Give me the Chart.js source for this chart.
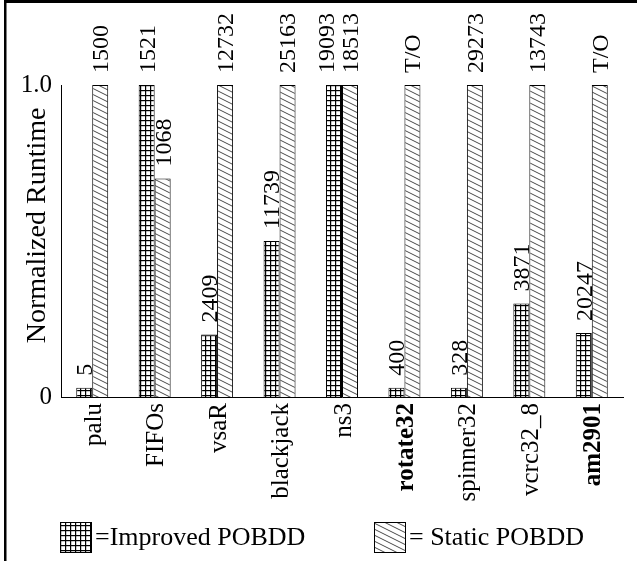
<!DOCTYPE html>
<html>
<head>
<meta charset="utf-8">
<script src="https://cdn.jsdelivr.net/npm/chart.js@4"></script>
<style>
  html, body { margin: 0; padding: 0; background: #fff; }
  #wrap { width: 637px; height: 561px; position: relative; }
</style>
</head>
<body>
<div id="wrap"><canvas id="chart" width="637" height="561"></canvas></div>
<script>
const categories = ["palu", "FIFOs", "vsaR", "blackjack", "ns3", "rotate32", "spinner32", "vcrc32_8", "am2901"];
const boldCategories = ["rotate32", "am2901"];
const improvedValues = [0.03, 1.0, 0.2, 0.5, 1.0, 0.03, 0.03, 0.3, 0.205];
const staticValues = [1.0, 0.7, 1.0, 1.0, 1.0, 1.0, 1.0, 1.0, 1.0];
const improvedLabels = ["5", "1521", "2409", "11739", "19093", "400", "328", "3871", "20247"];
const staticLabels = ["1500", "1068", "12732", "25163", "18513", "T/O", "29273", "13743", "T/O"];
const yTicks = [0, 1];

const FONT = '"Liberation Serif", "Times New Roman", serif';
const FS = 25;
const LABEL_FS = 24;

function gridPattern() {
  const c = document.createElement("canvas");
  c.width = 5; c.height = 5;
  const g = c.getContext("2d");
  g.fillStyle = "#fff";
  g.fillRect(0, 0, 5, 5);
  g.fillStyle = "#000";
  g.fillRect(0, 0, 5, 1.2);
  g.fillRect(0, 0, 1.2, 5);
  return g.createPattern(c, "repeat");
}

function hatchPattern() {
  const c = document.createElement("canvas");
  c.width = 12; c.height = 6;
  const g = c.getContext("2d");
  g.fillStyle = "#fff";
  g.fillRect(0, 0, 12, 6);
  g.strokeStyle = "#333";
  g.lineWidth = 0.9;
  for (let k = -2; k <= 2; k++) {
    g.beginPath();
    g.moveTo(-12, -6 + k * 6);
    g.lineTo(24, 12 + k * 6);
    g.stroke();
  }
  return g.createPattern(c, "repeat");
}

const improvedFill = gridPattern();
const staticFill = hatchPattern();

// frame, y title, value labels and legend
const extras = {
  id: "extras",
  beforeDraw(chart) {
    const ctx = chart.ctx;
    ctx.save();
    ctx.fillStyle = "#fff";
    ctx.fillRect(0, 0, chart.width, chart.height);
    ctx.fillStyle = "#000";
    ctx.fillRect(4, 0, 2.5, chart.height);
    ctx.fillRect(4, 0, chart.width, 3);
    ctx.restore();
  },
  afterDatasetsDraw(chart) {
    const ctx = chart.ctx;
    const area = chart.chartArea;
    ctx.save();
    ctx.fillStyle = "#000";

    // y axis title
    ctx.save();
    ctx.font = "28px " + FONT;
    ctx.translate(38, area.top + (area.bottom - area.top) * 0.45);
    ctx.rotate(-Math.PI / 2);
    ctx.textAlign = "center";
    ctx.textBaseline = "middle";
    ctx.fillText("Normalized Runtime", 0, 0);
    ctx.restore();

    ctx.font = LABEL_FS + "px " + FONT;
    const capHalf = LABEL_FS * 0.66 / 2;
    const impBars = chart.getDatasetMeta(0).data;
    const statBars = chart.getDatasetMeta(1).data;
    // value labels above bars, digits centred on each bar
    [improvedLabels, staticLabels].forEach((labels, di) => {
      chart.getDatasetMeta(di).data.forEach((bar, i) => {
        // when both bars are equally tall, nudge the left label aside
        const clash = di === 0 && Math.abs(impBars[i].y - statBars[i].y) < 1;
        ctx.save();
        ctx.translate(bar.x - (clash ? 8 : 0), bar.y - 12);
        ctx.rotate(-Math.PI / 2);
        ctx.textAlign = "left";
        ctx.textBaseline = "alphabetic";
        ctx.fillText(labels[i], 0, capHalf);
        ctx.restore();
      });
    });

    // legend
    const items = [
      { fill: improvedFill, text: "=Improved POBDD", x: 60 },
      { fill: staticFill, text: "= Static POBDD", x: 374 },
    ];
    const ly = 522;
    ctx.font = "26px " + FONT;
    items.forEach((it) => {
      ctx.fillStyle = it.fill;
      ctx.fillRect(it.x, ly, 32, 31);
      ctx.strokeStyle = "#000";
      ctx.lineWidth = 1;
      ctx.strokeRect(it.x + 0.5, ly + 0.5, 31, 30);
      ctx.fillStyle = "#000";
      ctx.textAlign = "left";
      ctx.textBaseline = "middle";
      ctx.fillText(it.text, it.x + 35, ly + 16);
    });
    ctx.restore();
  },
};

new Chart(document.getElementById("chart"), {
  type: "bar",
  data: {
    labels: categories,
    datasets: [
      {
        label: "=Improved POBDD",
        data: improvedValues,
        backgroundColor: improvedFill,
        borderColor: "#000",
        borderWidth: 1,
      },
      {
        label: "= Static POBDD",
        data: staticValues,
        backgroundColor: staticFill,
        borderColor: "#000",
        borderWidth: 1,
      },
    ],
  },
  options: {
    responsive: false,
    animation: false,
    layout: { padding: { top: 85, right: 14, bottom: 54, left: 0 } },
    datasets: { bar: { categoryPercentage: 0.512, barPercentage: 1 } },
    scales: {
      x: {
        grid: { display: false, drawTicks: false },
        border: { display: true, color: "#000", width: 1 },
        afterFit: (s) => { s.height = 110; },
        ticks: {
          color: "#000",
          padding: 6,
          labelOffset: 2,
          maxRotation: 90,
          minRotation: 90,
          autoSkip: false,
          font: (c) => ({
            family: FONT,
            size: FS,
            weight: boldCategories.includes(categories[c.index]) ? "bold" : "normal",
          }),
        },
      },
      y: {
        min: 0,
        max: 1,
        grid: { display: false, drawTicks: false },
        border: { display: true, color: "#000", width: 1 },
        afterFit: (s) => { s.width = 61; },
        afterBuildTicks: (s) => { s.ticks = yTicks.map((v) => ({ value: v })); },
        ticks: {
          color: "#000",
          padding: 9,
          font: { family: FONT, size: FS },
          callback: (v) => (v === 0 ? "0" : v.toFixed(1)),
        },
      },
    },
    plugins: {
      legend: { display: false },
      tooltip: { enabled: false },
    },
  },
  plugins: [extras],
});
</script>
</body>
</html>
